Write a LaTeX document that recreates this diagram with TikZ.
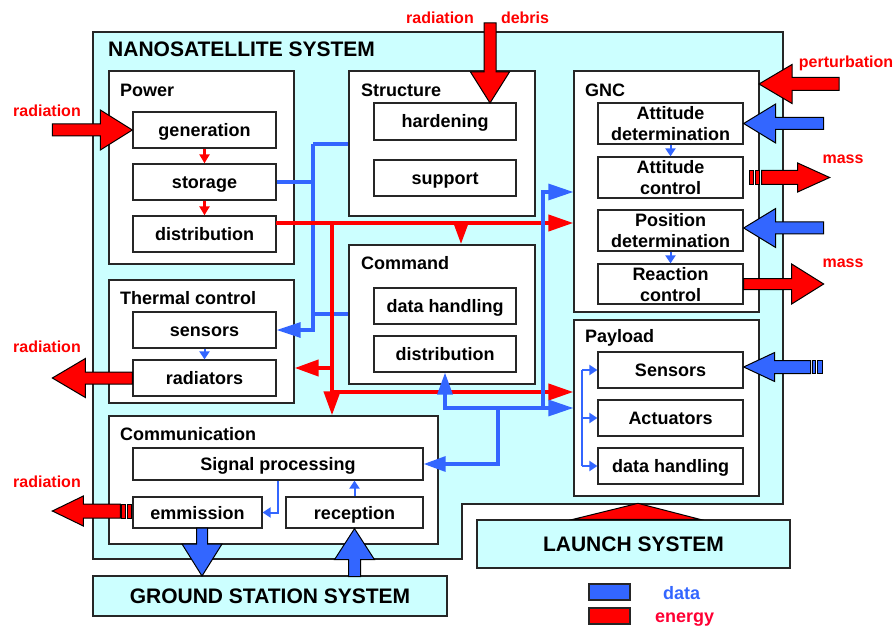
\documentclass[tikz,border=0pt]{standalone}
\usepackage{fontspec}
\setmainfont{Liberation Sans}
\usetikzlibrary{arrows.meta,calc}
\definecolor{cyanbg}{HTML}{CCFFFF}
\definecolor{dblue}{HTML}{3366FF}
\definecolor{dred}{HTML}{FF0000}
\definecolor{ered}{HTML}{FF0033}
\newcommand\blockarr[7]{%
  \begin{scope}[shift={#1}, rotate=#2]
    \filldraw[fill=#7, draw=black, line width=1pt, line join=miter]
      (0,0) -- (-#4,#6) -- (-#4,#5) -- (-#3,#5) -- (-#3,-#5) -- (-#4,-#5) -- (-#4,-#6) -- cycle;
  \end{scope}}
\tikzset{
  grp/.style={draw=black!85, fill=white, line width=1.3pt, inner sep=0pt},
  item/.style={draw=black!85, fill=white, line width=1.3pt, inner sep=0pt,
    font=\fontsize{18}{21}\selectfont\bfseries, align=center, text height=13pt, text depth=0pt},
  itemtwo/.style={item, text height=34pt},
  glabel/.style={anchor=west, inner sep=0pt, font=\fontsize{18}{21}\selectfont\bfseries},
  redlabel/.style={text=dred, inner sep=0pt, font=\fontsize{16}{18}\selectfont\bfseries},
  sysbox/.style={draw=black!85, fill=cyanbg, line width=1.3pt},
  systext/.style={font=\fontsize{21}{24}\selectfont\bfseries},
  bluebus/.style={draw=dblue, line width=3.2pt},
  redbus/.style={draw=dred, line width=4pt},
  bigtip/.style={-{Triangle[length=25pt,width=16pt]}},
  smallred/.style={draw=dred, line width=2.5pt, -{Triangle[length=9pt,width=10pt]}},
  smallblue/.style={draw=dblue, line width=2pt, -{Triangle[length=8pt,width=10pt]}},
  treeblue/.style={draw=dblue, line width=2.5pt},
  barbox/.style={draw=black, line width=0.8pt},
}
\begin{document}
\begin{tikzpicture}[x=1pt,y=-1pt]
\useasboundingbox (0,0) rectangle (893,628);

% ---------- systems ----------
\draw[sysbox] (93,32) -- (783,32) -- (783,504) -- (462,504) -- (462,559) -- (93,559) -- cycle;
\node[systext, anchor=west, inner sep=0pt] (title) at (108,49) {NANOSATELLITE SYSTEM};
\node[sysbox, systext, minimum width=354, minimum height=40, inner sep=0pt] (ground) at (270,596) {GROUND STATION SYSTEM};
\node[sysbox, systext, minimum width=313, minimum height=48, inner sep=0pt] (launch) at (633.5,544) {LAUNCH SYSTEM};

% ---------- groups ----------
\node[grp, minimum width=185, minimum height=193] (power) at (201.5,167.5) {};
\node[glabel] (powerl) at (120,90) {Power};
\node[grp, minimum width=186, minimum height=145] (struct) at (442,143.5) {};
\node[glabel] (structl) at (361,90) {Structure};
\node[grp, minimum width=185, minimum height=123] (thermal) at (201.5,341.5) {};
\node[glabel] (thermall) at (120,298) {Thermal control};
\node[grp, minimum width=186, minimum height=139] (cmd) at (442,314.5) {};
\node[glabel] (cmdl) at (361,263) {Command};
\node[grp, minimum width=329, minimum height=128] (comm) at (273.5,480) {};
\node[glabel] (comml) at (120,434) {Communication};
\node[grp, minimum width=185, minimum height=241] (gnc) at (666.5,191.5) {};
\node[glabel] (gncl) at (585,90) {GNC};
\node[grp, minimum width=185, minimum height=176] (payload) at (666.5,408) {};
\node[glabel] (payloadl) at (585,338) {Payload};

% ---------- items ----------
\node[item, minimum width=143, minimum height=36] (gen) at (204.5,130) {generation};
\node[item, minimum width=143, minimum height=36] (stor) at (204.5,182) {storage};
\node[item, minimum width=143, minimum height=36] (pdist) at (204.5,234) {distribution};
\node[item, minimum width=142, minimum height=37] (hard) at (445,121.5) {hardening};
\node[item, minimum width=142, minimum height=36] (supp) at (445,178) {support};
\node[item, minimum width=143, minimum height=36] (tsens) at (204.5,330) {sensors};
\node[item, minimum width=143, minimum height=36] (trad) at (204.5,378) {radiators};
\node[item, minimum width=142, minimum height=36] (cdh) at (445,306) {data handling};
\node[item, minimum width=142, minimum height=36] (cdist) at (445,354) {distribution};
\node[item, minimum width=290, minimum height=32] (sig) at (278,464) {Signal processing};
\node[item, minimum width=129, minimum height=31] (emm) at (197.5,512.5) {emmission};
\node[item, minimum width=137, minimum height=31] (rec) at (354.5,512.5) {reception};
\node[itemtwo, minimum width=145, minimum height=41] (ad) at (670.5,123.5) {Attitude\\determination};
\node[itemtwo, minimum width=145, minimum height=41] (ac) at (670.5,177.5) {Attitude\\control};
\node[itemtwo, minimum width=145, minimum height=41] (pd) at (670.5,230.5) {Position\\determination};
\node[itemtwo, minimum width=145, minimum height=40] (rc) at (670.5,284) {Reaction\\control};
\node[item, minimum width=145, minimum height=36] (psens) at (670.5,370) {Sensors};
\node[item, minimum width=145, minimum height=36] (pact) at (670.5,418) {Actuators};
\node[item, minimum width=145, minimum height=36] (pdh) at (670.5,466) {data handling};

% ---------- small internal arrows ----------
\draw[smallred] (gen.south) -- (stor.north);
\draw[smallred] (stor.south) -- (pdist.north);
\draw[smallblue] (tsens.south) -- (trad.north);
\draw[smallblue] (ad.south) -- (ac.north);
\draw[smallblue] (pd.south) -- (rc.north);
\draw[smallblue] (sig.south) -- (sig.south |- emm.east) -- (emm.east);
\draw[smallblue] (rec.north) -- (rec.north |- sig.south);
\coordinate (t1) at (582,370);
\coordinate (t2) at (582,418);
\coordinate (t3) at (582,466);
\draw[treeblue] (t1) -- (t3);
\draw[treeblue, -{Triangle[length=8pt,width=10pt]}] (t1) -- (t1 -| psens.west);
\draw[treeblue, -{Triangle[length=8pt,width=10pt]}] (t2) -- (t2 -| pact.west);
\draw[treeblue, -{Triangle[length=8pt,width=10pt]}] (t3) -- (t3 -| pdh.west);

% ---------- blue data bus (left) ----------
\coordinate (b1) at (313,144);
\coordinate (b2) at (313,330);
\coordinate (b3) at (313,314);
\draw[bluebus] (b1 -| struct.west) -- (b1);
\draw[bluebus] (stor.east) -- (stor.east -| b1);
\draw[bluebus] (b3 -| cmd.west) -- (b3);
\draw[bluebus, -{Triangle[length=24pt,width=15pt]}] (b1) -- (b2) -- (tsens.east);

% ---------- red energy bus ----------
\coordinate (r0) at (276,223);
\coordinate (r1) at (461,223);
\coordinate (r2) at (332,223);
\coordinate (r3) at (332,368);
\coordinate (r4) at (332,392);
\draw[redbus, bigtip] (r0) -- (r0 -| gnc.west);
\draw[redbus, -{Triangle[length=20pt,width=13pt]}] (r1) -- (r1 |- cmd.north);
\draw[redbus, -{Triangle[length=24pt,width=16pt]}] (r2) -- (r2 |- comm.north);
\draw[redbus, -{Triangle[length=24pt,width=16pt]}] (r3) -- (r3 -| thermal.east);
\draw[redbus, bigtip] (r4) -- (r4 -| payload.west);

% ---------- blue data bus (right) ----------
\coordinate (c1) at (445,408);
\coordinate (c2) at (543,408);
\coordinate (c3) at (543,192);
\coordinate (c4) at (498,408);
\coordinate (c5) at (498,464);
\draw[bluebus, {Triangle[length=22pt,width=15pt]}-{Triangle[length=25pt,width=16pt]}] (cdist.south) -- (c1) -- (c1 -| payload.west);
\draw[bluebus, bigtip] (c2) -- (c3) -- (c3 -| gnc.west);
\draw[bluebus, -{Triangle[length=22pt,width=15pt]}] (c4) -- (c5) -- (c5 -| sig.east);

% ---------- block arrows ----------
\blockarr{(gen.west)}{0}{80}{32}{6}{20}{dred}
\blockarr{($(trad.west)+(-80,0)$)}{180}{80}{33}{6}{19.5}{dred}
\blockarr{($(emm.west)+(-80,-1.5)$)}{180}{68}{31}{7}{15}{dred}
\filldraw[barbox, fill=dred] ($(emm.west)+(-11,-8.5)$) rectangle ($(emm.west)+(-7,5.5)$);
\filldraw[barbox, fill=dred] ($(emm.west)+(-5,-8.5)$) rectangle ($(emm.west)+(-1,5.5)$);
\coordinate (g1) at (202,576);
\blockarr{(g1)}{-90}{48}{32}{5.5}{20}{dblue}
\blockarr{(rec.south)}{90}{48}{31}{6}{20}{dblue}
\coordinate (d1) at (490,103);
\blockarr{(d1)}{-90}{80}{31}{6}{19.5}{dred}
\coordinate (pt) at (759,84);
\blockarr{(pt)}{180}{80}{33}{6.5}{19.5}{dred}
\blockarr{(ad.east)}{180}{80}{32}{6}{19.5}{dblue}
\blockarr{($(pd.east)+(0,-2.5)$)}{180}{80}{32}{6}{19.5}{dblue}
\blockarr{($(ac.east)+(86,0)$)}{0}{68}{32}{7}{14.5}{dred}
\filldraw[barbox, fill=dred] ($(ac.east)+(6,-7)$) rectangle ($(ac.east)+(10,7)$);
\filldraw[barbox, fill=dred] ($(ac.east)+(12,-7)$) rectangle ($(ac.east)+(16,7)$);
\blockarr{($(rc.east)+(80,0)$)}{0}{80}{32}{5.5}{20}{dred}
\blockarr{($(psens.east)+(0,-3)$)}{180}{67}{31}{6.5}{14.5}{dblue}
\filldraw[barbox, fill=dblue] ($(psens.east)+(69,-9.5)$) rectangle ($(psens.east)+(72,3.5)$);
\filldraw[barbox, fill=dblue] ($(psens.east)+(74,-9.5)$) rectangle ($(psens.east)+(79,3.5)$);
\filldraw[fill=dred, draw=black, line width=1pt] ($(launch.north)+(-60.5,0)$) -- ($(launch.north)+(4.5,-16)$) -- ($(launch.north)+(66.5,0)$) -- cycle;

% ---------- labels ----------
\node[redlabel] (lr1) at (440,18) {radiation};
\node[redlabel] (ldeb) at (525,18) {debris};
\node[redlabel] (lr2) at (47,111) {radiation};
\node[redlabel] (lr3) at (47,347) {radiation};
\node[redlabel] (lr4) at (47,482) {radiation};
\node[redlabel] (lpert) at (846,63) {perturbation};
\node[redlabel] (lm1) at (843,159) {mass};
\node[redlabel] (lm2) at (843,263) {mass};

% ---------- legend ----------
\node[draw=black!85, fill=dblue, minimum width=41, minimum height=16, inner sep=0pt, line width=1.2pt] (legd) at (609.5,592) {};
\node[draw=black!85, fill=dred, minimum width=41, minimum height=16, inner sep=0pt, line width=1.2pt] (lege) at (609.5,616) {};
\node[text=dblue, anchor=base west, inner sep=0pt, font=\fontsize{18}{21}\selectfont\bfseries] (legdt) at (663,599) {data};
\node[text=ered, anchor=base west, inner sep=0pt, font=\fontsize{18}{21}\selectfont\bfseries] (leget) at (655,622.5) {energy};
\end{tikzpicture}
\end{document}
